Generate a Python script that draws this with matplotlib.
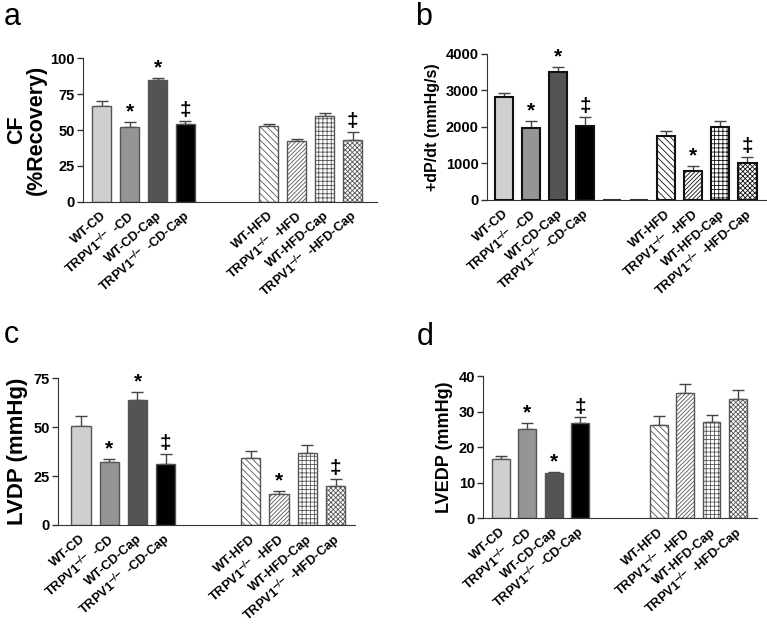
import numpy as np
import matplotlib
matplotlib.use("Agg")
import matplotlib.pyplot as plt

plt.rcParams['font.family'] = ['Liberation Sans', 'DejaVu Sans']
plt.rcParams['font.weight'] = 'bold'
plt.rcParams['mathtext.default'] = 'bf'
plt.rcParams['hatch.linewidth'] = 0.6

# group labels (x axis)
sup = r"$^{\!\!-\!\!/\!\!-}$"
labels = ["WT-CD", "TRPV1" + sup + " -CD", "WT-CD-Cap", "TRPV1" + sup + " -CD-Cap",
          "WT-HFD", "TRPV1" + sup + " -HFD", "WT-HFD-Cap", "TRPV1" + sup + " -HFD-Cap"]

# bar positions: CD group, gap, HFD group
pos = [0, 1, 2, 3, 6, 7, 8, 9]

# a: CF (%Recovery)
cf_mean = [66.5, 52, 85, 54, 52.5, 42.5, 60, 43]
cf_err = [4, 3.5, 1.2, 2.5, 1.5, 1.5, 2, 5.5]
cf_sig = ["", "*", "*", "‡", "", "", "", "‡"]

# b: +dP/dt (mmHg/s)
dp_mean = [2810, 1970, 3490, 2030, 1740, 790, 2000, 1000]
dp_err = [130, 180, 150, 250, 150, 130, 170, 170]
dp_sig = ["", "*", "*", "‡", "", "*", "", "‡"]

# c: LVDP (mmHg)
lvdp_mean = [50.5, 32, 64, 31, 34, 16, 37, 20]
lvdp_err = [5, 1.5, 4, 5.5, 4, 1.5, 4, 3.5]
lvdp_sig = ["", "*", "*", "‡", "", "*", "", "‡"]

# d: LVEDP (mmHg)
lvedp_mean = [16.8, 25.1, 12.7, 26.7, 26.3, 35.4, 27.0, 33.6]
lvedp_err = [0.8, 1.6, 0.4, 1.7, 2.6, 2.4, 2.2, 2.6]
lvedp_sig = ["", "*", "*", "‡", "", "", "", ""]

fills = ['#cfcfcf', '#959595', '#545454', '#000000',
         'white', 'white', 'white', 'white']
hatches = [None, None, None, None, '\\\\\\\\\\', '////////', '++++', 'xxxxxxx']


def panel(rect, mean, err, sig, ylim, yticks, ylabel, ylabel_size, xlim,
          edge='#555555', edge_w=1.0, zero_bars=False, labelpad=4):
    ax = fig.add_axes(rect)
    for i in range(len(pos)):
        ax.bar(pos[i], mean[i], width=0.68, color=fills[i], edgecolor=edge,
               linewidth=edge_w, hatch=hatches[i], zorder=2)
    if zero_bars:
        # two empty slots drawn as flat bars in the original
        ax.bar([4, 5], [0, 0], width=0.68, color='white', edgecolor='#333333',
               linewidth=1.5, zorder=2)
    ax.errorbar(pos, mean, yerr=[np.zeros(len(mean)), err], fmt='none',
                ecolor='#444444', elinewidth=1.0, capsize=4, capthick=1.0, zorder=1)
    span = ylim[1] - ylim[0]
    for i in range(len(pos)):
        if sig[i]:
            ax.text(pos[i], mean[i] + err[i] + span * 0.005, sig[i],
                    ha='center', va='bottom', fontsize=15, fontweight='bold')
    ax.set_xlim(xlim)
    ax.set_ylim(ylim)
    ax.set_yticks(yticks)
    ax.set_xticks([p + 0.1 for p in pos])
    ax.set_xticklabels(labels, rotation=41, ha='right', va='center',
                       rotation_mode='anchor', fontsize=9.3, fontweight='bold')
    ax.tick_params(axis='x', length=0, pad=9)
    ax.tick_params(axis='y', labelsize=10.5, length=4, width=1, color='#333333', pad=2)
    for lab in ax.get_yticklabels():
        lab.set_fontweight('bold')
    ax.spines['top'].set_visible(False)
    ax.spines['right'].set_visible(False)
    ax.spines['left'].set_color('#333333')
    ax.spines['bottom'].set_color('#333333')
    ax.set_ylabel(ylabel, fontsize=ylabel_size, fontweight='bold',
                  labelpad=labelpad, linespacing=0.95)
    return ax


fig = plt.figure(figsize=(7.67, 6.25), dpi=100)

panel([0.108, 0.677, 0.384, 0.230], cf_mean, cf_err, cf_sig, (0, 100),
      [0, 25, 50, 75, 100], "CF\n(%Recovery)", 15.5, (-0.68, 9.89), labelpad=2)
panel([0.635, 0.680, 0.364, 0.234], dp_mean, dp_err, dp_sig, (0, 4000),
      [0, 1000, 2000, 3000, 4000], "+dP/dt (mmHg/s)", 11.5, (-0.63, 9.7),
      edge='#111111', edge_w=1.5, zero_bars=True)
panel([0.0756, 0.160, 0.387, 0.235], lvdp_mean, lvdp_err, lvdp_sig, (0, 75),
      [0, 25, 50, 75], "LVDP (mmHg)", 16, (-0.81, 9.68))
panel([0.630, 0.171, 0.357, 0.227], lvedp_mean, lvedp_err, lvedp_sig, (0, 40),
      [0, 10, 20, 30, 40], "LVEDP (mmHg)", 13, (-0.68, 9.73))

fig.text(0.005, 0.96, "a", fontsize=22, fontweight='normal')
fig.text(0.541, 0.96, "b", fontsize=22, fontweight='normal')
fig.text(0.005, 0.451, "c", fontsize=22, fontweight='normal')
fig.text(0.544, 0.448, "d", fontsize=22, fontweight='normal')

fig.savefig("out.png", dpi=100)
